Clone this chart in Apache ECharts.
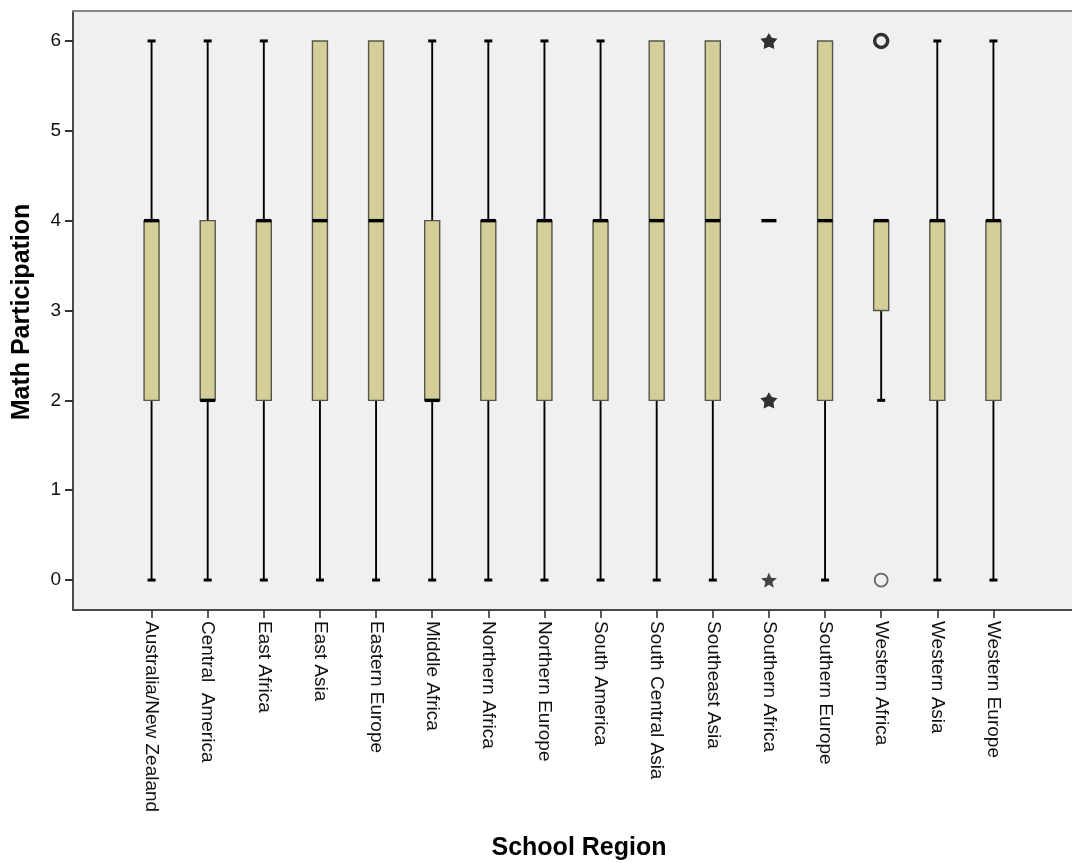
<!DOCTYPE html>
<html>
<head>
<meta charset="utf-8">
<script src="https://cdn.jsdelivr.net/npm/echarts@6/dist/echarts.min.js"></script>
<style>
  html, body { margin: 0; padding: 0; background: #ffffff; }
  #chart { width: 1072px; height: 863px; }
</style>
</head>
<body>
<div id="chart"></div>
<script>
// School regions along the horizontal axis
const regions = [
  'Australia/New Zealand', 'Central  America', 'East Africa', 'East Asia',
  'Eastern Europe', 'Middle Africa', 'Northern Africa', 'Northern Europe',
  'South America', 'South Central Asia', 'Southeast Asia', 'Southern Africa',
  'Southern Europe', 'Western Africa', 'Western Asia', 'Western Europe'
];

// Five-number summaries of math participation per region
const whiskerLow  = [0, 0, 0, 0, 0, 0, 0, 0, 0, 0, 0, 4, 0, 2, 0, 0];
const quartile1   = [2, 2, 2, 2, 2, 2, 2, 2, 2, 2, 2, 4, 2, 3, 2, 2];
const medians     = [4, 2, 4, 4, 4, 2, 4, 4, 4, 4, 4, 4, 4, 4, 4, 4];
const quartile3   = [4, 4, 4, 6, 6, 4, 4, 4, 4, 6, 6, 4, 6, 4, 4, 4];
const whiskerHigh = [6, 6, 6, 6, 6, 6, 6, 6, 6, 6, 6, 4, 6, 4, 6, 6];

// Outliers (circles) and extreme values (stars): [region index, value, cases]
const outliers = [[13, 6, 2], [13, 0, 1]];
const extremes = [[11, 6, 2], [11, 2, 2], [11, 0, 1]];

// Tick values on the vertical axis
const yTicks = [0, 1, 2, 3, 4, 5, 6];
const xTicks = regions.map((_, i) => i);

const FONT = '"Liberation Sans", Arial, sans-serif';

const starBold = 'path://M50 0 L66 27 L98 33 L76 58 L80 91 L50 78 L20 91 L24 58 L2 33 L34 27 Z';
const starThin = 'path://M50 0 L63 31 L98 34 L71 57 L79 91 L50 73 L21 91 L29 57 L2 34 L37 31 Z';

const boxData = regions.map((_, i) => [i, whiskerLow[i], quartile1[i], medians[i], quartile3[i], whiskerHigh[i]]);

function renderBox(params, api) {
  const i = api.value(0);
  const lo = api.value(1), q1 = api.value(2), med = api.value(3), q3 = api.value(4), hi = api.value(5);
  const x = api.coord([i, 0])[0];
  const py = v => api.coord([i, v])[1];
  const half = 7.5;
  const capHalf = 4;
  const children = [];
  const whiskerStyle = { stroke: '#000000', lineWidth: 1.9 };

  if (lo < q1) {
    children.push({ type: 'line', shape: { x1: x, y1: py(lo), x2: x, y2: py(q1) }, style: whiskerStyle });
    children.push({ type: 'rect', shape: { x: x - capHalf, y: py(lo) - 1.5, width: capHalf * 2, height: 3 }, style: { fill: '#000000' } });
  }
  if (hi > q3) {
    children.push({ type: 'line', shape: { x1: x, y1: py(q3), x2: x, y2: py(hi) }, style: whiskerStyle });
    children.push({ type: 'rect', shape: { x: x - capHalf, y: py(hi) - 1.5, width: capHalf * 2, height: 3 }, style: { fill: '#000000' } });
  }
  if (q3 > q1) {
    children.push({
      type: 'rect',
      shape: { x: x - half, y: py(q3), width: half * 2, height: py(q1) - py(q3) },
      style: { fill: '#d4cf98', stroke: '#55554a', lineWidth: 1.4 }
    });
  }
  children.push({
    type: 'rect',
    shape: { x: x - half, y: py(med) - 1.7, width: half * 2, height: 3.4 },
    style: { fill: '#000000' }
  });
  return { type: 'group', children };
}

const chart = echarts.init(document.getElementById('chart'), null, { renderer: 'canvas' });

chart.setOption({
  backgroundColor: '#ffffff',
  animation: false,
  grid: {
    left: 73, top: 11, width: 1001, height: 599,
    show: true, backgroundColor: '#f0f0f0', borderWidth: 0
  },
  xAxis: [{
    type: 'value',
    min: -1.4, max: 16.4,
    splitLine: { show: false },
    axisLine: { show: true, onZero: false, lineStyle: { color: '#4a4a4a', width: 2 } },
    axisTick: { show: true, length: 8, customValues: xTicks, lineStyle: { color: '#333333', width: 1.6 } },
    axisLabel: {
      customValues: xTicks,
      rotate: -90,
      margin: 11,
      color: '#111111',
      fontFamily: FONT,
      fontSize: 19,
      formatter: v => regions[Math.round(v)] || ''
    }
  }, {
    type: 'value',
    position: 'top',
    min: -1.4, max: 16.4,
    splitLine: { show: false },
    axisLine: { show: true, onZero: false, lineStyle: { color: '#858585', width: 2 } },
    axisTick: { show: false },
    axisLabel: { show: false }
  }],
  yAxis: {
    type: 'value',
    min: -1 / 3, max: 19 / 3,
    splitLine: { show: false },
    axisLine: { show: true, onZero: false, lineStyle: { color: '#4a4a4a', width: 2 } },
    axisTick: { show: true, length: 8, customValues: yTicks, lineStyle: { color: '#333333', width: 2 } },
    axisLabel: {
      customValues: yTicks,
      margin: 12,
      color: '#111111',
      fontFamily: FONT,
      fontSize: 19,
      formatter: v => String(Math.round(v))
    }
  },
  graphic: [{
    type: 'text',
    x: 22, y: 312,
    rotation: Math.PI / 2,
    style: {
      text: 'Math Participation',
      font: 'bold 25px ' + FONT,
      fill: '#000000',
      align: 'center', verticalAlign: 'middle',
      textAlign: 'center', textVerticalAlign: 'middle'
    }
  }, {
    type: 'text',
    x: 579, y: 848,
    style: {
      text: 'School Region',
      font: 'bold 25px ' + FONT,
      fill: '#000000',
      align: 'center', verticalAlign: 'middle',
      textAlign: 'center', textVerticalAlign: 'middle'
    }
  }],
  series: [{
    type: 'custom',
    name: 'Math Participation',
    xAxisIndex: 0,
    renderItem: renderBox,
    encode: { x: 0, y: [1, 2, 3, 4, 5] },
    data: boxData,
    clip: false,
    z: 2
  }, {
    type: 'scatter',
    name: 'Outliers',
    xAxisIndex: 0,
    data: outliers.map(d => ({
      value: [d[0], d[1]],
      symbolSize: 13,
      itemStyle: {
        color: '#f0f0f0',
        borderColor: d[2] > 1 ? '#000000' : '#444444',
        borderWidth: d[2] > 1 ? 3.4 : 1.8
      }
    })),
    symbol: 'circle',
    z: 3
  }, {
    type: 'scatter',
    name: 'Extremes',
    xAxisIndex: 0,
    data: extremes.map(d => ({
      value: [d[0], d[1]],
      symbol: d[2] > 1 ? starBold : starThin,
      symbolSize: d[2] > 1 ? 17 : 16,
      itemStyle: { color: d[2] > 1 ? '#000000' : '#1a1a1a' }
    })),
    symbolKeepAspect: true,
    z: 3
  }]
});
</script>
</body>
</html>
